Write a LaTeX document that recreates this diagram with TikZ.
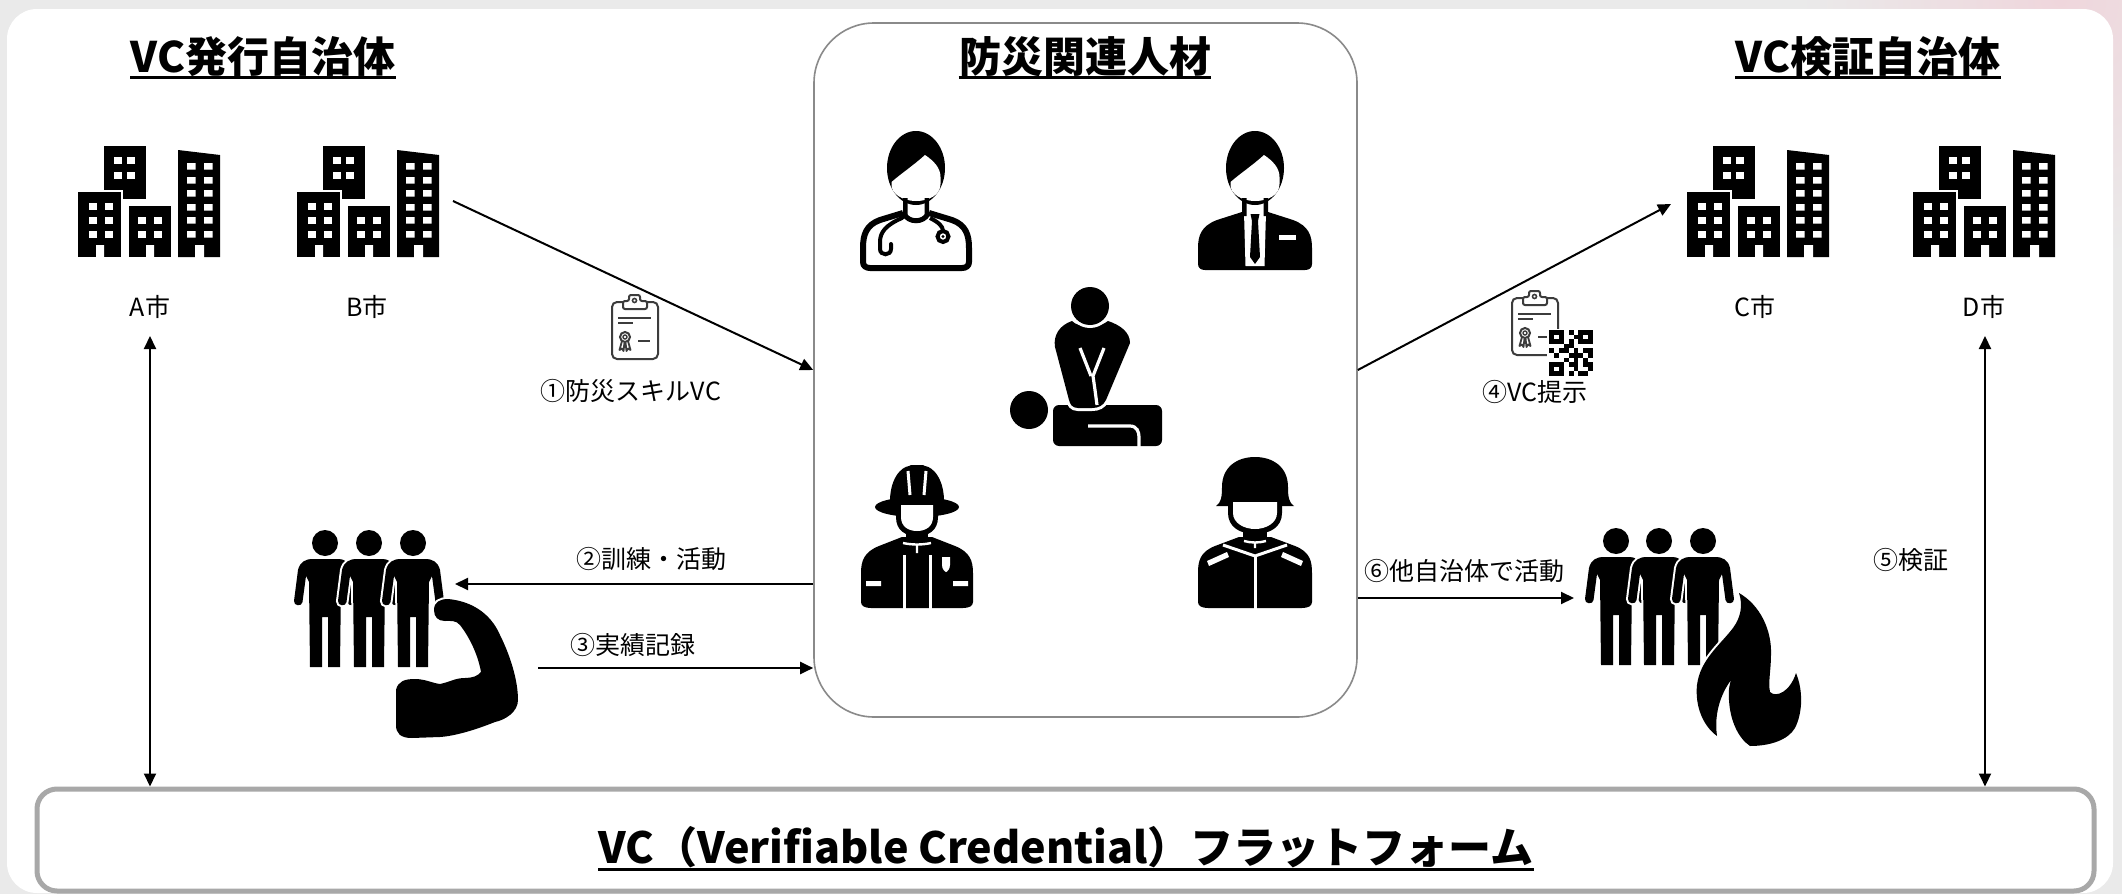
\documentclass[tikz,border=0pt]{standalone}
\usepackage{fontspec}
\newfontfamily\jp{Noto Sans CJK JP}
\usetikzlibrary{arrows.meta}

\definecolor{bggray}{HTML}{EAEAEA}
\definecolor{blush}{HTML}{EFD6DC}
\definecolor{hubedge}{HTML}{8A8A8A}
\definecolor{platedge}{HTML}{A8A8A8}
\definecolor{icongray}{HTML}{3C3C3C}

\tikzset{
  lbl/.style={font=\jp\fontsize{12.5}{15}\selectfont, inner sep=0pt},
  ttl/.style={font=\jp\bfseries\fontsize{21}{25}\selectfont, inner sep=0pt, anchor=base},
  ulin/.style={line width=1.5pt},
  arr/.style={-{Triangle[length=6.5pt,width=6pt]}, line width=1pt},
  dblarr/.style={{Triangle[length=6.5pt,width=6pt]}-{Triangle[length=6.5pt,width=6pt]}, line width=1pt},
  hubbox/.style={draw=hubedge, line width=0.8pt, rounded corners=30pt, minimum width=271.5pt, minimum height=347pt, inner sep=0pt},
  platbox/.style={draw=platedge, line width=2.5pt, rounded corners=10pt, fill=white, minimum width=1028.5pt, minimum height=51pt, inner sep=0pt},
  whiteedge/.style={preaction={draw=white, line width=#1}},
  whiteedge/.default=2pt,
  % city: four towers with windows and doors
  building/.pic={
    \fill (27,0) rectangle (69,53);
    \fill[whiteedge] (1,46) rectangle (44,111);
    \fill (52,60) rectangle (94,111);
    \fill (101,4) -- (143,9) -- (143,111) -- (101,111) -- cycle;
    \begin{scope}[white]
      \foreach \wx/\wy in {37/11,50/11,37/26,50/26,12/57,28/57,12/71,28/71,12/85,28/85,61/71,77/71,61/85,77/85}
        \fill (\wx,\wy) rectangle +(7.5,6.5);
      \foreach \wy in {17,31,44,58,71,85}
        \fill (110,\wy) rectangle +(8.5,6.5) (127,\wy) rectangle +(8.5,6.5);
      \fill (19,99) rectangle (27,112) (69,99) rectangle (77,112) (118,99) rectangle (127,112);
    \end{scope}
  },
  % standing figure, origin at top of head
  person/.pic={
    \fill[whiteedge] (0,13) circle (13);
    \fill[whiteedge] (0,29) -- (12,29) .. controls (20,29) and (25,32) .. (27,40) -- (31,71)
      .. controls (31.5,76) and (23,77) .. (22.5,72) -- (19,46) -- (16,52) -- (15,137) -- (3,137)
      -- (3,87) -- (-3,87) -- (-3,137) -- (-15,137) -- (-16,52) -- (-19,46) -- (-22.5,72)
      .. controls (-23,77) and (-31.5,76) .. (-31,71) -- (-27,40) .. controls (-25,32) and (-20,29) .. (-12,29) -- cycle;
  },
  % head with side-parted hair and neck
  headbust/.pic={
    \fill (0,36) ellipse [x radius=29, y radius=37];
    \fill[white] (-24.5,50) .. controls (-14,41) and (-2,33) .. (9,23) .. controls (18,29) and (24.5,36) .. (24.5,45)
      -- (24.5,52) .. controls (24.5,63) and (13,69) .. (0,69) .. controls (-13,69) and (-24.5,62) .. (-24.5,53) -- cycle;
    \fill (-13,66) rectangle (-8.5,84) (8.5,66) rectangle (13,84);
  },
  doctor/.pic={
    \pic {headbust};
    \draw[line width=3pt, line join=round] (-13,81) -- (-36,88) .. controls (-50,93) and (-53,103) .. (-53,116)
      -- (-53,130) .. controls (-53,134) and (-50,136) .. (-46,136) -- (46,136) .. controls (50,136) and (53,134) .. (53,130)
      -- (53,116) .. controls (53,103) and (50,93) .. (36,88) -- (13,81);
    \draw[line width=2.5pt] (-12,82) .. controls (-7,91) and (7,91) .. (12,82);
    \draw[line width=2pt, line cap=round] (-14,86) .. controls (-30,93) and (-36,100) .. (-36,110) -- (-36,117)
      .. controls (-36,124) and (-25,124) .. (-25,117) -- (-25,112);
    \draw[line width=2pt] (14,86) .. controls (22,90) and (27,94) .. (27,99);
    \draw[line width=2pt] (27,104.5) circle (5.5);
    \fill (27,104.5) circle (1.6);
  },
  suit/.pic={
    \fill (-13,80) -- (-38,88) .. controls (-54,94) and (-57,104) .. (-57,116) -- (-57,132)
      .. controls (-57,136) and (-54,138) .. (-50,138) -- (50,138) .. controls (54,138) and (57,136) .. (57,132)
      -- (57,116) .. controls (57,104) and (54,94) .. (38,88) -- (13,80) -- cycle;
    \fill[white] (-11,80) -- (11,80) -- (9.5,134) -- (-9.5,134) -- cycle;
    \fill (-4.5,82) -- (4.5,82) -- (3,89) -- (5,125) -- (0,132) -- (-5,125) -- (-3,89) -- cycle;
    \fill[white] (24,103) rectangle (41,108);
    \pic {headbust};
  },
  firefighter/.pic={
    \fill (-15,72) -- (15,72) -- (38,81) .. controls (53,87) and (56,96) .. (56,108) -- (56,137)
      .. controls (56,141) and (52,143) .. (46,143) -- (-46,143) .. controls (-52,143) and (-56,141) .. (-56,137)
      -- (-56,108) .. controls (-56,96) and (-53,87) .. (-38,81) -- cycle;
    \fill (-21,36) -- (21,36) -- (21,52) .. controls (21,66) and (11,71) .. (0,71) .. controls (-11,71) and (-21,66) .. (-21,52) -- cycle;
    \fill (-11,64) rectangle (11,75);
    \fill (-27,40) .. controls (-28,14) and (-16,2) .. (-8,1) -- (-6,0) -- (6,0) -- (8,1) .. controls (16,2) and (28,14) .. (27,40) -- cycle;
    \fill (0,42) ellipse [x radius=42, y radius=10];
    \fill[white] (-16,40) -- (16,40) -- (16,52) .. controls (16,62) and (8,66) .. (0,66) .. controls (-8,66) and (-16,62) .. (-16,52) -- cycle;
    \draw[white, line width=1.5pt] (-9,6) -- (-7,30) (9,6) -- (7,30);
    \draw[white, line width=1.5pt] (-13,90) -- (-13,144) (13,90) -- (13,144);
    \draw[white, line width=1.2pt] (-14,78) .. controls (-5,80) and (5,80) .. (14,78) (0,79) -- (0,88);
    \fill[white] (-51,116) rectangle (-36,121) (36,116) rectangle (51,121);
    \fill[white] (25,92) -- (33,92) -- (33,100) .. controls (33,104) and (30,107) .. (29,107) .. controls (28,107) and (25,104) .. (25,100) -- cycle;
  },
  soldier/.pic={
    \fill (-16,80) -- (16,80) -- (40,89) .. controls (55,95) and (57,104) .. (57,116) -- (57,145)
      .. controls (57,149) and (53,151) .. (47,151) -- (-47,151) .. controls (-53,151) and (-57,149) .. (-57,145)
      -- (-57,116) .. controls (-57,104) and (-55,95) .. (-40,89) -- cycle;
    \fill (-27,40) -- (27,40) -- (27,56) .. controls (27,70) and (15,77) .. (0,77) .. controls (-15,77) and (-27,70) .. (-27,56) -- cycle;
    \fill (-12,70) rectangle (12,83);
    \fill[white] (-22,45) -- (22,45) -- (22,56) .. controls (22,66) and (11,72) .. (0,72) .. controls (-11,72) and (-22,66) .. (-22,56) -- cycle;
    \fill (-39,49) .. controls (-34,46) and (-33,40) .. (-33,30) .. controls (-33,10) and (-18,0) .. (0,0)
      .. controls (18,0) and (33,10) .. (33,30) .. controls (33,40) and (34,46) .. (39,49) -- (27,49) -- (27,43)
      -- (-27,43) -- (-27,49) -- cycle;
    \draw[white, line width=1.5pt] (0,98) -- (0,152);
    \draw[white, line width=1.5pt, line join=round] (-32,88) -- (0,99) -- (32,88);
    \draw[white, line width=1.2pt] (-11,84) .. controls (-4,86) and (4,86) .. (11,84) (0,85) -- (0,91);
    \fill[white] (-48,104) -- (-28,95) -- (-26,100) -- (-46,109) -- cycle;
    \fill[white] (48,104) -- (28,95) -- (26,100) -- (46,109) -- cycle;
  },
  % certificate on a clipboard, origin at top-left of the board
  clipboard/.pic={
    \draw[icongray, line width=1pt, rounded corners=2.5pt, fill=white] (0,0) rectangle (46,57);
    \draw[icongray, line width=1pt, fill=white, rounded corners=1pt] (11,7) -- (11,-1) -- (17,-1) -- (17,-7) -- (28,-7) -- (28,-1) -- (35,-1) -- (35,7) -- cycle;
    \draw[icongray, line width=0.8pt] (22.5,-1.5) circle (2);
    \draw[icongray, line width=1pt] (6,16) -- (39,16) (6,21) -- (21,21) (26,39) -- (38,39);
    \draw[icongray, line width=1pt] (13,35) circle (5);
    \draw[icongray, line width=0.7pt] (13,35) circle (2);
    \draw[icongray, line width=0.9pt, line join=round] (10,39) -- (7.5,48) -- (10,46.5) -- (11.5,49) -- (12.5,40.5)
      (16,39) -- (18.5,48) -- (16,46.5) -- (14.5,49) -- (13.5,40.5);
  }
}

\begin{document}
\begin{tikzpicture}[x=0.5pt,y=-0.5pt]
\useasboundingbox (0,0) rectangle (2122,894);

% backdrop and panel
\fill[bggray] (0,0) rectangle (2122,894);
\shade[inner color=blush, outer color=bggray] (2060,0) circle (260);
\fill[white, rounded corners=15pt] (7,9) rectangle (2113,893);

% headings
\node[ttl] (hIssue) at (263,72) {VC発行自治体};
\node[ttl] (hPeople) at (1085,72) {防災関連人材};
\node[ttl] (hVerify) at (1868,72) {VC検証自治体};
\foreach \h in {hIssue,hPeople,hVerify}
  \draw[ulin] ([yshift=-2.5pt]\h.base west) -- ([yshift=-2.5pt]\h.base east);

% central group of personnel
\node[hubbox] (hub) at (1085.5,370) {};
\pic at (916,132) {doctor};
\pic at (1255,132) {suit};
\pic at (917,465) {firefighter};
\pic at (1255,457) {soldier};

% CPR figure
\fill[rounded corners=3pt] (1053,405) -- (1162,405) -- (1162,446) -- (1053,446) -- cycle;
\fill (1029,410) circle (19);
\draw[white, line width=1.6pt] (1088,426) -- (1130,426) .. controls (1137,426) and (1139,432) .. (1139,437) -- (1139,448);
\fill[whiteedge=3pt] (1055,347) .. controls (1053,335) and (1060,325) .. (1072,321) .. controls (1078,328) and (1100,328) .. (1108,321)
  .. controls (1120,325) and (1130,332) .. (1130,343) -- (1106,400) .. controls (1103,406) and (1098,408) .. (1092,408)
  -- (1078,408) .. controls (1072,408) and (1070,404) .. (1069,400) -- cycle;
\draw[white, line width=1.6pt, line join=round] (1080,348) -- (1091,376) (1104,348) -- (1093,376) -- (1095,390) -- (1097,405);
\fill[whiteedge=3pt] (1090,306) circle (19);

% cities
\pic at (77,146) {building};
\pic at (296,146) {building};
\pic at (1686,146) {building};
\pic at (1912,146) {building};
\node[lbl] (lA) at (150,307) {A市};
\node[lbl] (lB) at (367,307) {B市};
\node[lbl] (lC) at (1755,307) {C市};
\node[lbl] (lD) at (1984,307) {D市};

% teams on the left (training) and right (field work)
\foreach \px in {325,369,413} \pic at (\px,530) {person};
\fill[whiteedge] (434,610) .. controls (434,602) and (440,599) .. (448,599) .. controls (470,601) and (490,612) .. (500,635)
  .. controls (510,655) and (518,680) .. (518,700) .. controls (518,712) and (505,720) .. (495,722)
  .. controls (475,730) and (455,736) .. (440,737) -- (412,738) .. controls (400,738) and (396,733) .. (396,725)
  -- (396,690) .. controls (398,681) and (405,679) .. (415,679) .. controls (425,679) and (432,683) .. (440,684)
  .. controls (450,682) and (455,678) .. (465,678) .. controls (472,678) and (478,676) .. (481,672)
  .. controls (478,655) and (470,638) .. (460,625) .. controls (456,620) and (450,621) .. (445,621)
  .. controls (438,621) and (434,617) .. (434,610) -- cycle;
\foreach \px in {1616,1659,1703} \pic at (\px,528) {person};
\fill[whiteedge] (1739,593) .. controls (1760,605) and (1772,630) .. (1771,655) .. controls (1771,670) and (1768,682) .. (1770,692)
  .. controls (1776,698) and (1790,692) .. (1796,673) .. controls (1803,690) and (1803,712) .. (1795,728)
  .. controls (1788,740) and (1770,746) .. (1750,746) .. controls (1738,738) and (1730,720) .. (1729,700)
  .. controls (1728,690) and (1730,683) .. (1731,680) .. controls (1720,695) and (1714,715) .. (1717,736)
  .. controls (1702,725) and (1695,705) .. (1697,685) .. controls (1700,660) and (1720,645) .. (1733,628)
  .. controls (1741,617) and (1743,605) .. (1739,593) -- cycle;

% credential icons
\pic at (612,302) {clipboard};
\pic at (1512,298) {clipboard};
\draw[icongray, line width=1pt] (1538,337) -- (1551,337);
\fill[white] (1547,329) rectangle (1595,378);
\foreach \qc/\qr in {0/0,1/0,2/0,4/0,6/0,7/0,8/0, 0/1,2/1,5/1,6/1,8/1, 0/2,1/2,2/2,4/2,6/2,7/2,8/2,
  3/3,4/3, 0/4,2/4,3/4,5/4,7/4,8/4, 1/5,4/5,5/5,6/5,8/5, 3/6,5/6,7/6,
  0/7,1/7,2/7,4/7,5/7,7/7,8/7, 0/8,2/8,5/8,8/8, 0/9,1/9,2/9,4/9,6/9,7/9}
  \fill (1549+4.9*\qc,330+4.6*\qr) rectangle +(4.9,4.6);

% platform
\node[platbox] (plat) at (1065.5,840) {};
\node[font=\jp\bfseries\fontsize{21.5}{26}\selectfont, inner sep=0pt, anchor=base] (platText) at (1066,863)
  {VC（Verifiable Credential）フラットフォーム};
\draw[ulin] ([yshift=-3pt]platText.base west) -- ([yshift=-3pt]platText.base east);

% flows
\coordinate (bOut) at (453,201);
\coordinate (cIn) at (1671,204);
\coordinate (teamL) at (455,584);
\coordinate (recStart) at (538,668);
\coordinate (teamR) at (1574,598);
\coordinate (aEnd) at (150,336);
\coordinate (dEnd) at (1985,336);
\draw[arr] (bOut) -- (hub.west);
\draw[arr] (hub.east) -- (cIn);
\draw[arr] (hub.west |- teamL) -- (teamL);
\draw[arr] (recStart) -- (hub.west |- recStart);
\draw[arr] (hub.east |- teamR) -- (teamR);
\draw[dblarr] (aEnd) -- (aEnd |- plat.north);
\draw[dblarr] (dEnd) -- (dEnd |- plat.north);

% step labels
\node[lbl] (s1) at (631,391) {①防災スキルVC};
\node[lbl] (s2) at (651,559) {②訓練・活動};
\node[lbl] (s3) at (633,645) {③実績記録};
\node[lbl] (s4) at (1535,392) {④VC提示};
\node[lbl] (s5) at (1911,560) {⑤検証};
\node[lbl] (s6) at (1464,571) {⑥他自治体で活動};
\end{tikzpicture}
\end{document}
